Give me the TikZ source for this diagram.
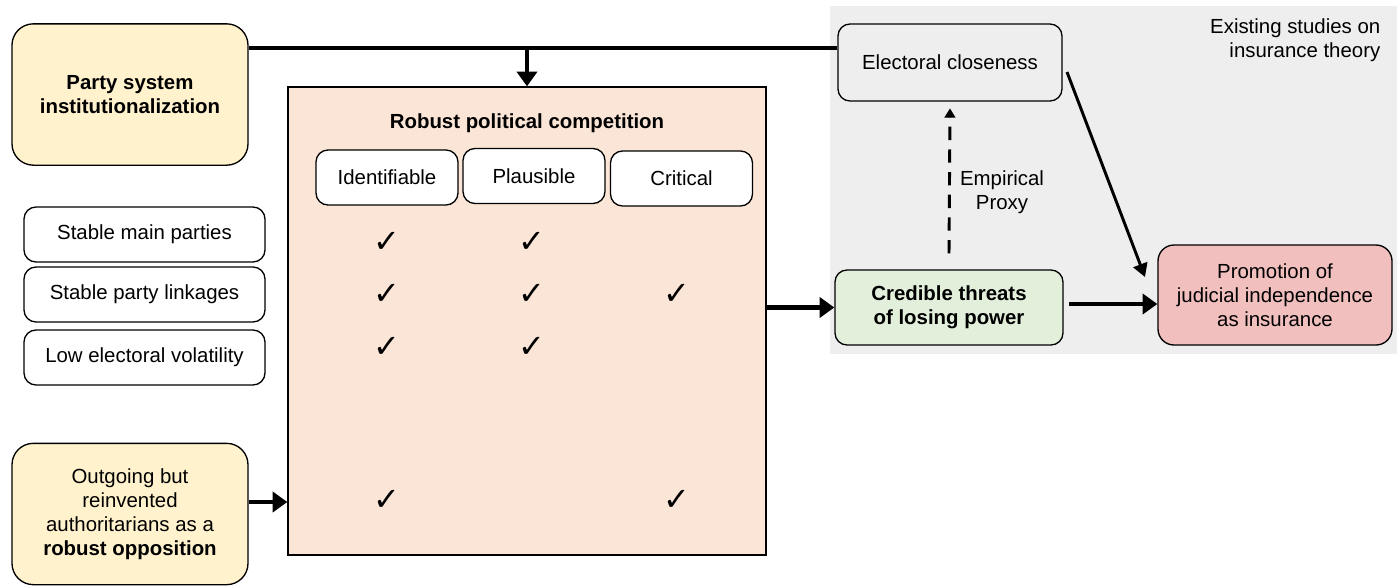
\documentclass[tikz,border=0pt]{standalone}
\usepackage{fontspec}
\setmainfont{Liberation Sans}
\newfontfamily\symfont{DejaVu Sans}
\usetikzlibrary{arrows.meta}
\definecolor{partyfill}{HTML}{FFF2CC}
\definecolor{robustfill}{HTML}{FBE5D6}
\definecolor{credfill}{HTML}{E2EFDA}
\definecolor{promofill}{HTML}{F2BFBF}
\definecolor{theoryfill}{HTML}{EEEEEE}
\tikzset{
  box/.style={draw, line width=1pt, rounded corners=9pt, align=center, inner sep=0pt,
    font=\fontsize{15.3}{18}\selectfont},
  inputbox/.style={box, fill=partyfill, rounded corners=16pt, minimum width=177pt, minimum height=106pt},
  colbox/.style={box, fill=white, minimum width=106.5pt, minimum height=41.25pt},
  featbox/.style={box, fill=white, minimum width=180.75pt, minimum height=41.25pt},
  tick/.style={font=\symfont\bfseries\fontsize{24}{24}\selectfont, inner sep=0pt},
  link/.style={line width=3.5pt, -{Triangle[length=11pt,width=15pt]}},
}
\begin{document}
\begin{tikzpicture}[x=0.75pt,y=-0.75pt]
            \useasboundingbox (0,0) rectangle (1397,587);
            % existing theory area
            \fill[theoryfill] (830,6) rectangle (1397,354);
            \node[anchor=east, align=right, font=\fontsize{15.3}{18}\selectfont] (theory) at (1385,40) {Existing studies on\\insurance theory};
            % inputs
            \node[inputbox] (party) at (130,94.5) {\textbf{Party system}\\\textbf{institutionalization}};
            \node[inputbox] (outgoing) at (130,514) {Outgoing but\\reinvented\\authoritarians as a\\\textbf{robust opposition}};
            \node[featbox] (mainparties) at (144.5,234.5) {Stable main parties};
            \node[featbox] (linkages) at (144.5,294.5) {Stable party linkages};
            \node[featbox] (volatility) at (144.5,357.5) {Low electoral volatility};
            % robust political competition
            \node[draw, line width=1pt, fill=robustfill, minimum width=358.5pt, minimum height=351pt, inner sep=0pt] (robust) at (527,321) {};
            \node[font=\fontsize{15.3}{18}\selectfont\bfseries] (robusttitle) at (527,123) {Robust political competition};
            \node[colbox] (ident) at (387,177.5) {Identifiable};
            \node[colbox] (plaus) at (534,176) {Plausible};
            \node[colbox] (crit) at (681.5,178.5) {Critical};
            \foreach \name/\cx/\cy in {a1/387/242, b1/532/242, a2/387/294, b2/532/294, c2/677/294,
                                       a3/387/347, b3/532/347, a4/387/500, c4/677/500}
              \node[tick] (tick\name) at (\cx,\cy) {✓};
            % outcome side
            \node[box, fill=theoryfill, minimum width=168pt, minimum height=57.75pt] (closeness) at (950,62.5) {Electoral closeness};
            \node[box, fill=credfill, minimum width=171pt, minimum height=56.25pt] (credible) at (949,307.5) {\textbf{Credible threats}\\\textbf{of losing power}};
            \node[box, fill=promofill, rounded corners=12pt, minimum width=175.5pt, minimum height=75pt] (promotion) at (1275,295) {Promotion of\\judicial independence\\as insurance};
            \node[align=center, font=\fontsize{15.3}{18}\selectfont] (proxy) at (1002,192) {Empirical\\Proxy};
            % connectors
            \coordinate (split) at (527,48);
            \coordinate (diagstart) at (1067,72);
            \coordinate (diagtip) at (1145,277);
            \draw[line width=3.5pt] (party.east |- split) -- (closeness.west |- split);
            \draw[link] (split) -- (robust.north);
            \draw[link] ([yshift=9pt]outgoing.east) -- (robust.west |- 0,502);
            \draw[link] (robust.east |- credible.west) -- (credible.west);
            \draw[link] ([xshift=4pt]credible.east |- 0,304) -- (promotion.west |- 0,304);
            \draw[line width=2.2pt, -{Triangle[length=10pt,width=11pt]}] (diagstart) -- (diagtip);
            \draw[line width=2.2pt, dash pattern=on 10pt off 7pt, -{Triangle[length=7pt,width=8pt]}] ([yshift=12pt]credible.north) -- ([yshift=-5pt]closeness.south);
        \end{tikzpicture}
\end{document}
